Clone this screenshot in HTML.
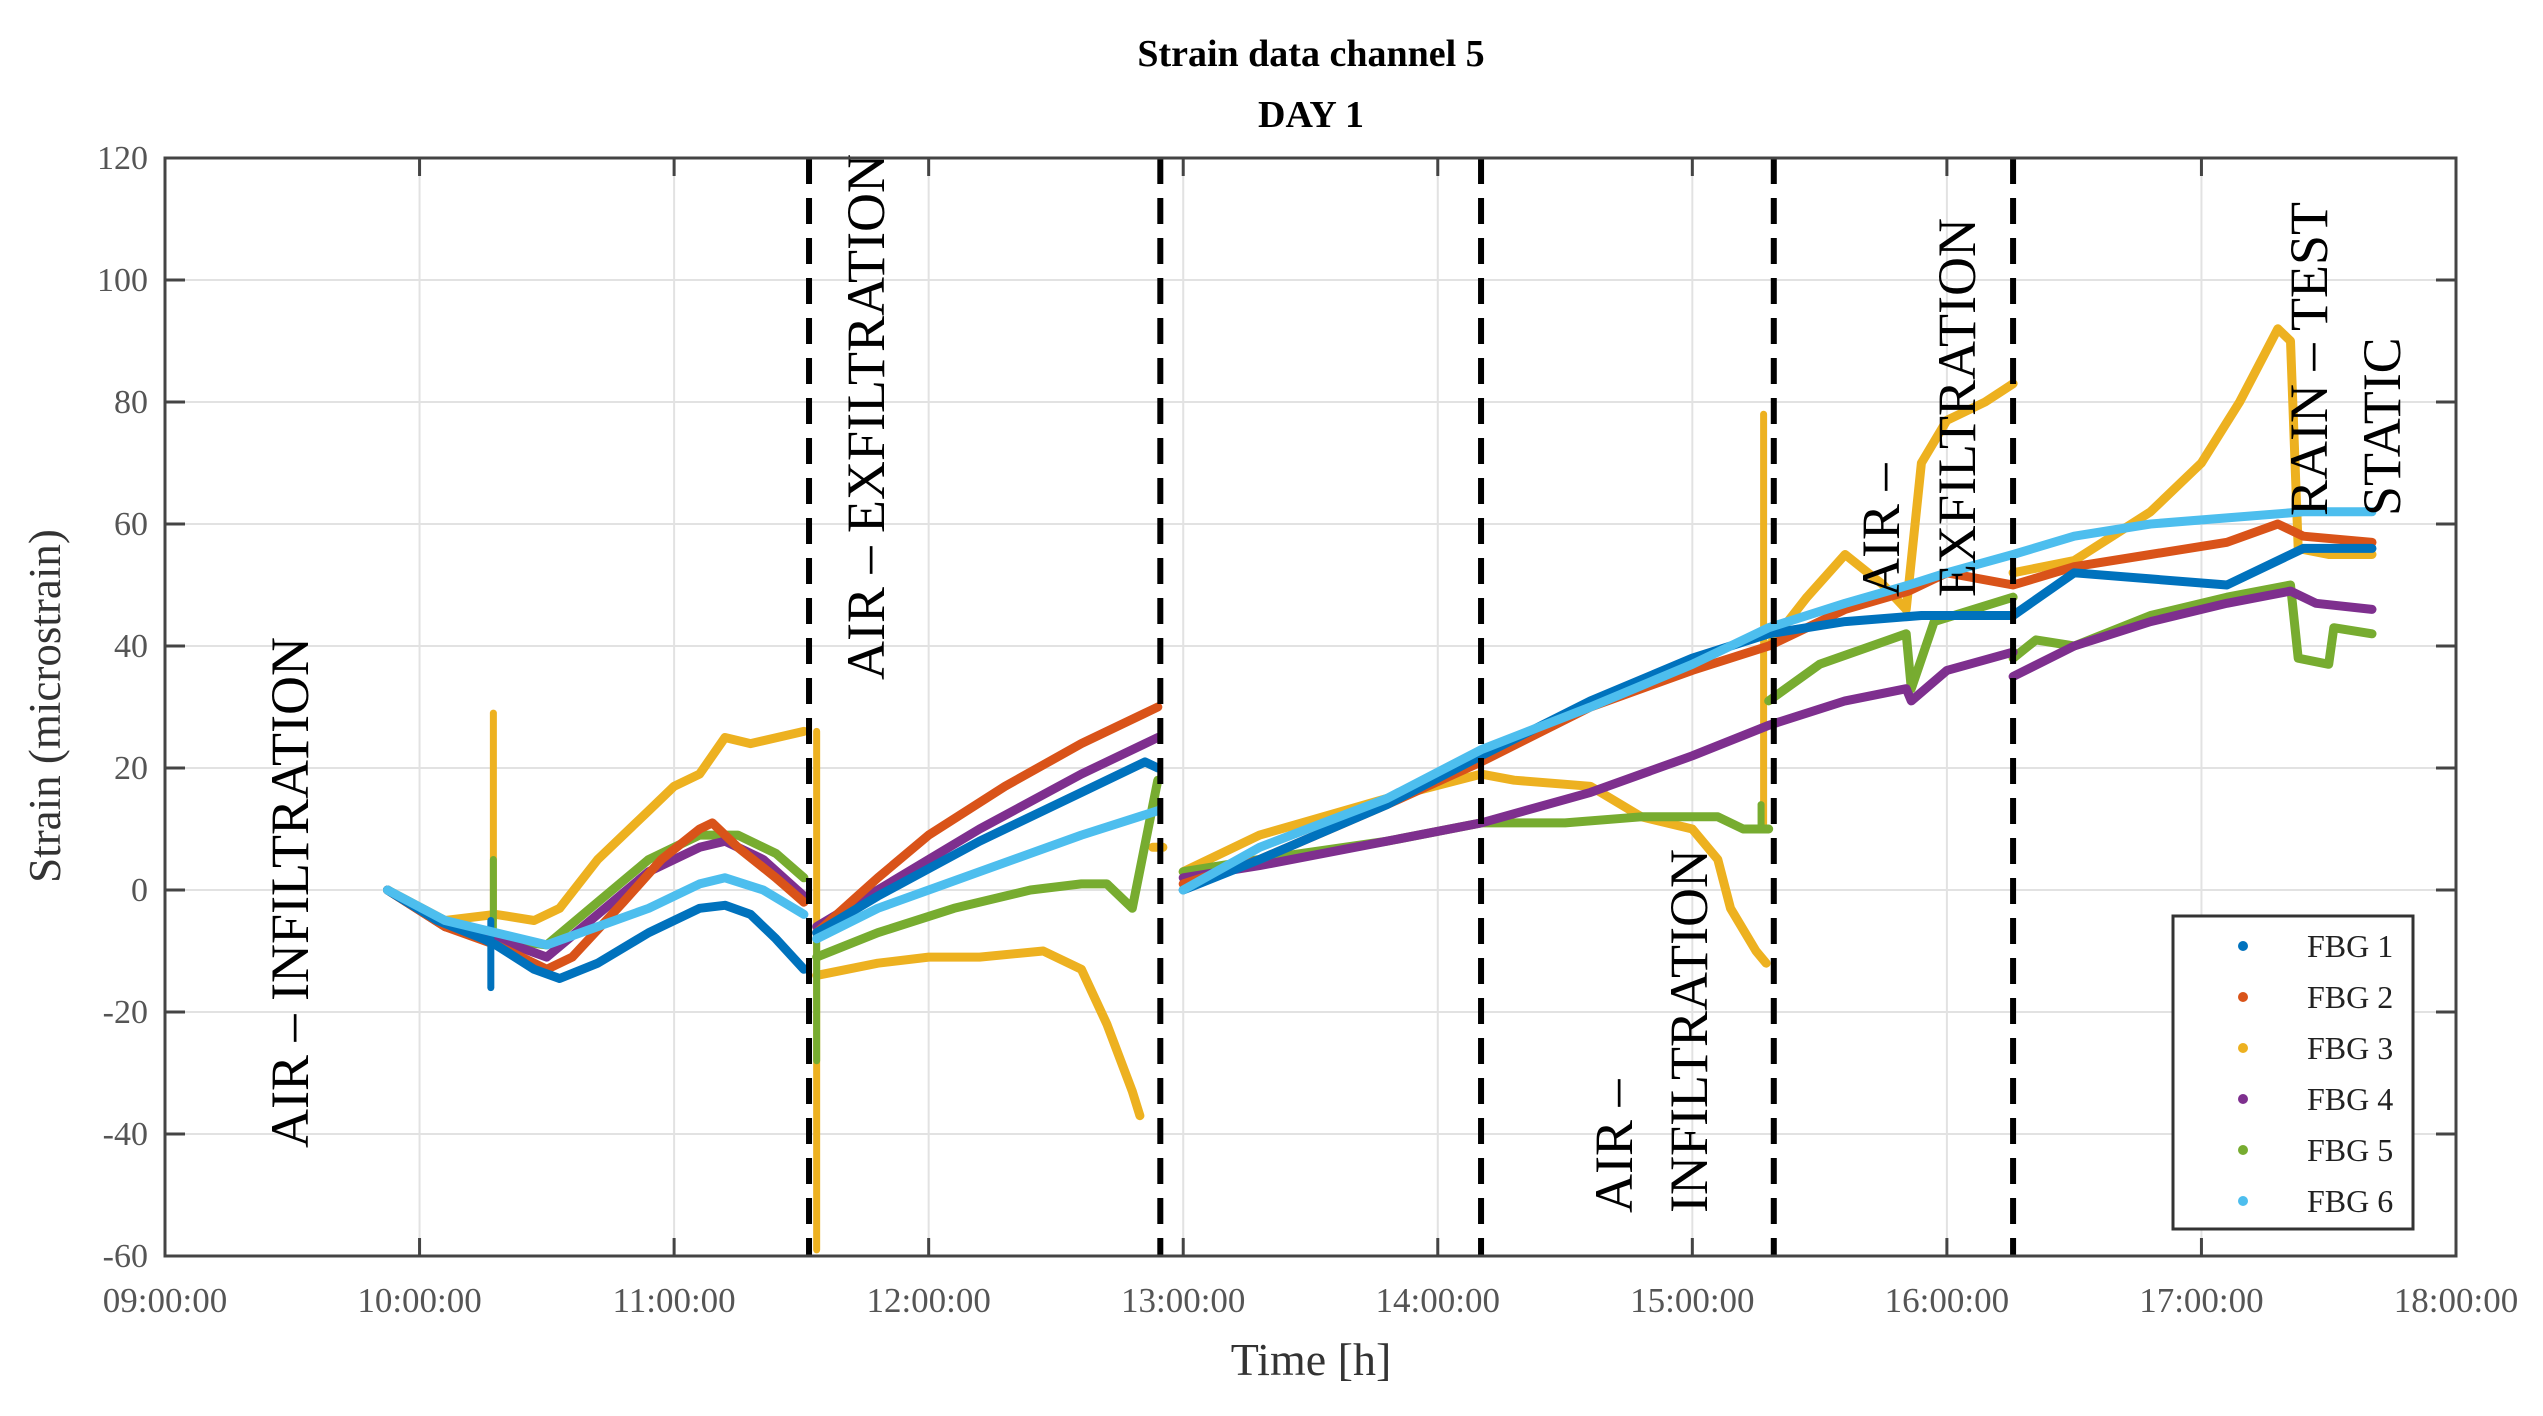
<!DOCTYPE html>
<html><head><meta charset="utf-8"><style>
html,body{margin:0;padding:0;background:#fff;}
svg{display:block;font-family:"Liberation Serif",serif;}
</style></head><body>
<svg id="chart" width="2543" height="1416" viewBox="0 0 2543 1416" xmlns="http://www.w3.org/2000/svg">
<text x="1311" y="66" font-size="38" font-weight="bold" text-anchor="middle">Strain data channel 5</text>
<text x="1311" y="127" font-size="38" font-weight="bold" text-anchor="middle">DAY 1</text>
<text x="1311" y="1375" font-size="46" fill="#333" text-anchor="middle">Time [h]</text>
<text transform="translate(60,706) rotate(-90)" font-size="45" fill="#333" text-anchor="middle">Strain (microstrain)</text>
<g id="grid"></g><g id="series"></g><g id="phases"></g><g id="axes"></g><g id="legend"></g>
</svg>
<script>
const xTicks=[9,10,11,12,13,14,15,16,17,18];
const xTickLabels=["09:00:00","10:00:00","11:00:00","12:00:00","13:00:00","14:00:00","15:00:00","16:00:00","17:00:00","18:00:00"];
const yTicks=[-60,-40,-20,0,20,40,60,80,100,120];
const phaseTimes=[11.53,12.91,14.17,15.32,16.26];
const seriesNames=["FBG 1","FBG 2","FBG 3","FBG 4","FBG 5","FBG 6"];
const fbg1=[[9.874,0],[10.07,-5],[10.25,-8],[10.3,-9],[10.45,-13],[10.55,-14.5],[10.7,-12],[10.9,-7],[11.1,-3],[11.2,-2.5],[11.3,-4],[11.4,-8],[11.51,-13],null,
[11.56,-7],[11.8,-1],[12.2,8],[12.6,16],[12.85,21],[12.9,20],null,
[13.0,0],[13.3,5],[13.8,14],[14.17,22],[14.6,31],[15.0,38],[15.3,42],[15.6,44],[15.9,45],[16.26,45],[16.5,52],[16.8,51],[17.1,50],[17.4,56],[17.67,56]];
const fbg1Spikes=[[10.28,-16,-5]];
const fbg2=[[9.874,0],[10.1,-6],[10.3,-9],[10.5,-13],[10.6,-11],[10.8,-2],[10.95,5],[11.1,10],[11.15,11],[11.25,7],[11.4,2],[11.51,-2],null,
[11.56,-7],[11.8,2],[12.0,9],[12.3,17],[12.6,24],[12.9,30],null,
[13.0,1],[13.3,5],[13.8,14],[14.17,21],[14.6,30],[15.0,36],[15.3,40],[15.6,46],[15.85,49],[16.0,52],[16.26,50],[16.5,53],[16.8,55],[17.1,57],[17.3,60],[17.4,58],[17.67,57]];
const fbg2Spikes=[];
const fbg3=[[9.874,0],[10.1,-5],[10.3,-4],[10.45,-5],[10.55,-3],[10.7,5],[10.9,13],[11.0,17],[11.1,19],[11.2,25],[11.3,24],[11.51,26],null,
[11.56,-14],[11.8,-12],[12.0,-11],[12.2,-11],[12.45,-10],[12.6,-13],[12.7,-22],[12.8,-33],[12.83,-37],null,[12.88,7],[12.92,7],null,
[13.0,3],[13.3,9],[13.8,15],[14.17,19],[14.3,18],[14.6,17],[14.8,12],[15.0,10],[15.1,5],[15.15,-3],[15.25,-10],[15.29,-12],null,
[15.3,40],[15.45,48],[15.6,55],[15.75,50],[15.84,46],[15.9,70],[16.0,77],[16.15,80],[16.26,83],null,
[16.26,52],[16.5,54],[16.8,62],[17.0,70],[17.15,80],[17.25,88],[17.3,92],[17.35,90],[17.38,56],[17.5,55],[17.67,55]];
const fbg3Spikes=[[10.29,-5,29],[11.56,-59,26],[15.28,10,78]];
const fbg4=[[9.874,0],[10.1,-6],[10.3,-8],[10.5,-11],[10.7,-4],[10.9,3],[11.1,7],[11.2,8],[11.35,5],[11.51,-1],null,
[11.56,-6],[11.8,0],[12.2,10],[12.6,19],[12.9,25],null,
[13.0,2],[13.3,4],[13.8,8],[14.17,11],[14.6,16],[15.0,22],[15.3,27],[15.6,31],[15.84,33],[15.86,31],[16.0,36],[16.26,39],null,
[16.26,35],[16.5,40],[16.8,44],[17.1,47],[17.35,49],[17.45,47],[17.67,46]];
const fbg4Spikes=[];
const fbg5=[[9.874,0],[10.1,-6],[10.3,-8],[10.5,-9],[10.7,-2],[10.9,5],[11.1,9],[11.25,9],[11.4,6],[11.51,2],null,
[11.56,-11],[11.8,-7],[12.1,-3],[12.4,0],[12.6,1],[12.7,1],[12.8,-3],[12.9,18],null,
[13.0,3],[13.3,5],[13.8,8],[14.17,11],[14.5,11],[14.8,12],[15.1,12],[15.2,10],[15.3,10],null,
[15.3,31],[15.5,37],[15.84,42],[15.86,33],[15.95,44],[16.26,48],null,
[16.26,38],[16.35,41],[16.5,40],[16.8,45],[17.1,48],[17.35,50],[17.38,38],[17.5,37],[17.52,43],[17.67,42]];
const fbg5Spikes=[[10.29,-8,5],[11.56,-28,-8],[15.27,10,14]];
const fbg6=[[9.874,0],[10.1,-5],[10.3,-7],[10.5,-9],[10.7,-6],[10.9,-3],[11.1,1],[11.2,2],[11.35,0],[11.51,-4],null,
[11.56,-8],[11.8,-3],[12.2,3],[12.6,9],[12.9,13],null,
[13.0,0],[13.3,7],[13.8,15],[14.17,23],[14.6,30],[15.0,37],[15.3,43],[15.6,47],[15.85,50],[16.0,52],[16.26,55],[16.5,58],[16.8,60],[17.1,61],[17.4,62],[17.67,62]];
const fbg6Spikes=[];

const NS="http://www.w3.org/2000/svg";
const X0=165,X1=2456,Y0=1256,Y1=158;
function xs(t){return X0+(t-9)/9*(X1-X0);}
function ys(v){return Y0-(v+60)/180*(Y0-Y1);}
function mk(tag,attrs,parent){const e=document.createElementNS(NS,tag);for(const k in attrs)e.setAttribute(k,attrs[k]);parent.appendChild(e);return e;}
const grid=document.getElementById('grid'),axes=document.getElementById('axes'),ser=document.getElementById('series'),ph=document.getElementById('phases'),leg=document.getElementById('legend');
xTicks.forEach((t,i)=>{
  const g=mk('line',{x1:xs(t),x2:xs(t),y1:Y1,y2:Y0,stroke:'#e2e2e2','stroke-width':2},grid);
  
  
  const tk=mk('line',{x1:xs(t),x2:xs(t),y1:Y0,y2:Y0-18,stroke:'#444','stroke-width':3},axes);
  
  
  const tk2=mk('line',{x1:xs(t),x2:xs(t),y1:Y1,y2:Y1+18,stroke:'#444','stroke-width':3},axes);
  
  
  const tx=mk('text',{x:xs(t),y:1312,'font-size':35,fill:'#555','text-anchor':'middle'},axes);
  tx.textContent=xTickLabels[i];
  
  
});
yTicks.forEach(v=>{
  const g=mk('line',{x1:X0,x2:X1,y1:ys(v),y2:ys(v),stroke:'#e2e2e2','stroke-width':2},grid);
  
  
  const tk=mk('line',{x1:X0,x2:X0+20,y1:ys(v),y2:ys(v),stroke:'#444','stroke-width':3},axes);
  
  
  const tk2=mk('line',{x1:X1,x2:X1-20,y1:ys(v),y2:ys(v),stroke:'#444','stroke-width':3},axes);
  
  
  const tx=mk('text',{x:148,y:ys(v)+11,'font-size':34,fill:'#555','text-anchor':'end'},axes);
  tx.textContent=String(v);
  
  
});
const box=mk('rect',{x:X0,y:Y1,width:X1-X0,height:Y0-Y1,fill:'none',stroke:'#444','stroke-width':3},axes);



const colors=['#0072BD','#D95319','#EDB120','#7E2F8E','#77AC30','#4DBEEE'];
const allSeries=[fbg1,fbg2,fbg3,fbg4,fbg5,fbg6];
const allSpikes=[fbg1Spikes,fbg2Spikes,fbg3Spikes,fbg4Spikes,fbg5Spikes,fbg6Spikes];
const order=[2,4,3,1,0,5];
order.forEach(si=>{
  const g=mk('g',{},ser);
  
  
  let pts=[];
  const flush=()=>{if(pts.length>1){const p=mk('polyline',{points:pts.join(' '),fill:'none',stroke:colors[si],'stroke-width':9,'stroke-linejoin':'round','stroke-linecap':'round'},g);
    
    }pts=[];};
  allSeries[si].forEach(d=>{if(d===null){flush();}else pts.push(xs(d[0]).toFixed(1)+','+ys(d[1]).toFixed(1));});
  flush();
  allSpikes[si].forEach(s=>{
    const l=mk('line',{x1:xs(s[0]),x2:xs(s[0]),y1:ys(s[1]),y2:ys(s[2]),stroke:colors[si],'stroke-width':7,'stroke-linecap':'round'},g);
    
    
  });
});
phaseTimes.forEach(t=>{
  const l=mk('line',{x1:xs(t),x2:xs(t),y1:Y1,y2:Y0,stroke:'#000','stroke-width':6,'stroke-dasharray':'26 14'},ph);
  
  
});
const ann=[["AIR \u2013 INFILTRATION",308,1148],["AIR \u2013 EXFILTRATION",884,680],["AIR \u2013",1632,1213],["INFILTRATION",1707,1213],["AIR \u2013",1899,597],["EXFILTRATION",1975,597],["RAIN \u2013 TEST",2327,516],["STATIC",2400,516]];
ann.forEach(a=>{
  const t=mk('text',{transform:`translate(${a[1]},${a[2]}) rotate(-90)`,'font-size':54,fill:'#000','text-anchor':'start'},ph);
  t.textContent=a[0];
  
  
});
const lb=mk('rect',{x:2173,y:916,width:240,height:313,fill:'#fff',stroke:'#333','stroke-width':3},leg);


seriesNames.forEach((n,i)=>{
  const y=946+i*51;
  const c=mk('circle',{cx:2243,cy:y,r:5,fill:colors[i]},leg);
  
  
  const t=mk('text',{x:2307,y:y+11,'font-size':32,fill:'#222'},leg);
  t.textContent=n;
  
  
});
</script>
</body></html>
